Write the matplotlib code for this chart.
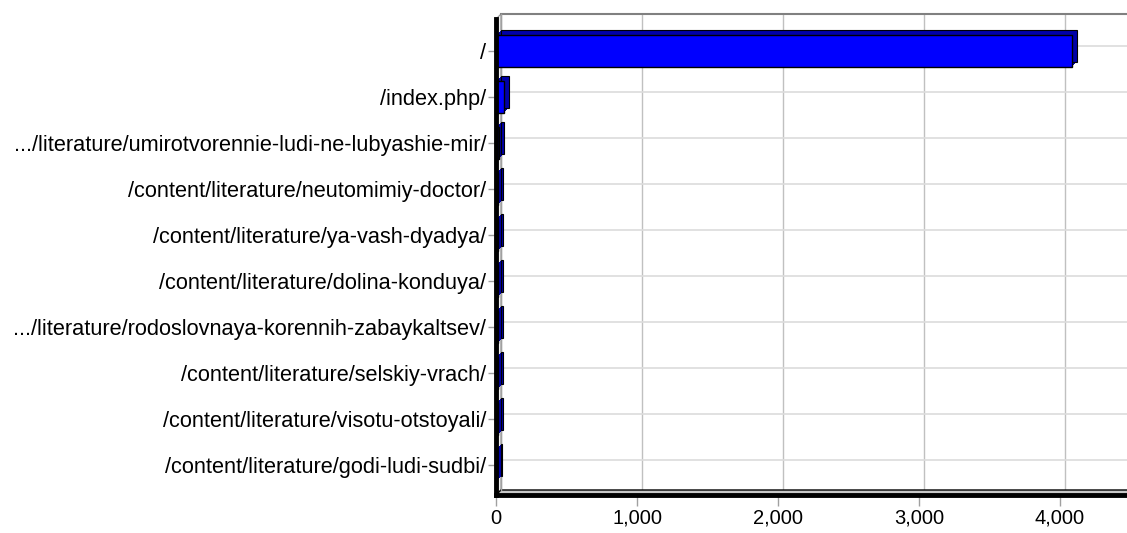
import matplotlib
matplotlib.use('Agg')
import matplotlib.pyplot as plt
from matplotlib.patches import Polygon
from matplotlib.transforms import Affine2D
from matplotlib.ticker import StrMethodFormatter

pages = ['/', '/index.php/', '.../literature/umirotvorennie-ludi-ne-lubyashie-mir/',
         '/content/literature/neutomimiy-doctor/', '/content/literature/ya-vash-dyadya/',
         '/content/literature/dolina-konduya/',
         '.../literature/rodoslovnaya-korennih-zabaykaltsev/',
         '/content/literature/selskiy-vrach/', '/content/literature/visotu-otstoyali/',
         '/content/literature/godi-ludi-sudbi/']
hits = [4085, 55, 18, 16, 15, 14, 13, 12, 11, 10]
x_ticks = [0, 1000, 2000, 3000, 4000]

plt.rcParams['font.family'] = ['Liberation Sans', 'DejaVu Sans']

W, H = 1127, 533
fig = plt.figure(figsize=(W / 100, H / 100), dpi=100)
ax = fig.add_axes([496 / W, 38 / H, (W - 496) / W, (495 - 19) / H])
depth = 5  # pixels of fake 3d depth
dxa = depth / (W - 496)
dya = depth / (495 - 19)

pos = list(range(len(pages)))
ax.set_xlim(0, 4475)
ax.set_ylim(9.66, -0.7)

# back plane grid, shifted up/right
ax.set_xticks(x_ticks)
ax.set_yticks(pos)
ax.xaxis.set_major_formatter(StrMethodFormatter('{x:,.0f}'))
ax.set_yticklabels(pages)
ax.grid(axis='x', color='#c0c0c0', lw=1)
ax.grid(axis='y', color='#dcdcdc', lw=1.2)
ax.set_axisbelow(True)
shift = Affine2D().translate(depth, depth)
for ln in ax.get_xgridlines() + ax.get_ygridlines():
    ln.set_transform(ln.get_transform() + shift)
    ln.set_clip_on(False)

for s in ax.spines.values():
    s.set_visible(False)
ax.tick_params(axis='y', length=6, width=1, color='#a0a0a0', labelsize=15.7, pad=1)
ax.tick_params(axis='x', length=8, width=1, color='#a0a0a0', labelsize=14.5, pad=2)

# walls
wall = Polygon([(0, 0), (0, 1), (dxa, 1 + dya), (dxa, dya)], closed=True,
               transform=ax.transAxes, facecolor='#f2f2f2', edgecolor='#909090',
               lw=0.8, clip_on=False, zorder=0.6)
floor = Polygon([(0, 0), (1, 0), (1 + dxa, dya), (dxa, dya)], closed=True,
                transform=ax.transAxes, facecolor='#c8c8c8', edgecolor='black',
                lw=1, clip_on=False, zorder=0.6)
ax.add_patch(wall)
ax.add_patch(floor)
ax.plot([dxa, 1.05], [1 + dya, 1 + dya], transform=ax.transAxes, color='#808080',
        lw=1.5, clip_on=False, zorder=0.7)
ax.plot([dxa, dxa], [dya, 1 + dya], transform=ax.transAxes, color='#a0a0a0',
        lw=1, clip_on=False, zorder=0.7)

# bars: extrusion then front face
for k in range(1, depth + 1):
    ax.barh(pos, hits, height=0.7, color='#0000a8', zorder=2,
            edgecolor='black' if k == depth else 'none', lw=0.8,
            transform=ax.transData + Affine2D().translate(k, k))
ax.barh(pos, hits, height=0.7, color='#0000ff', edgecolor='black', lw=1, zorder=3)

# front edges
ax.plot([0, 0], [0, 1], transform=ax.transAxes, color='black', lw=3.5,
        clip_on=False, zorder=4)
ax.plot([0, 1], [0, 0], transform=ax.transAxes, color='black', lw=3.5,
        clip_on=False, zorder=4)

fig.savefig('out.png', dpi=100)
